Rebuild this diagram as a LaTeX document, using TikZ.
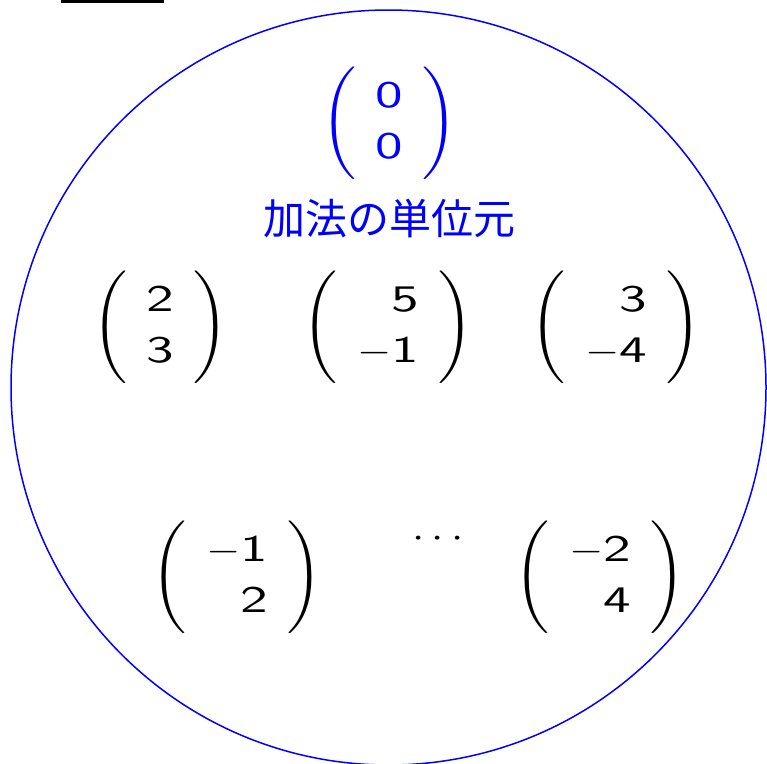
\documentclass[tikz,border=0pt]{standalone}
\usepackage{fontspec}
\newfontfamily\jp{Noto Sans CJK JP}
\newcommand{\dg}[1]{\scalebox{1.25}[1]{$\mathsf{#1}$}}
\newcommand{\myvec}[2]{\scalebox{4.4}[3.75]{\renewcommand{\arraystretch}{1.12}\setlength{\arraycolsep}{4.4pt}$\Bigg(\begin{array}{r}#1\\#2\end{array}\Bigg)$}}
\tikzset{
  vec/.style={inner sep=0pt, anchor=center},
  circ/.style={draw=blue, line width=1.5pt},
  lbl/.style={text=blue, inner sep=0pt, text height=32pt, text depth=4pt, font=\jp\fontsize{42}{48}\selectfont}
}
\begin{document}
\begin{tikzpicture}[x=1pt,y=-1pt]
\useasboundingbox (0,0) rectangle (767,763);
\fill[black] (61,0) rectangle (164,3);
\node[circ, circle, minimum size=755pt, inner sep=0pt] (c) at (388.5,387.5) {};
\node[vec, text=blue] (zero) at (389,123) {\myvec{\dg{0}}{\dg{0}}};
\node[lbl] (unit) at (389,220) {加法の単位元};
\node[vec] (v1) at (160,327) {\myvec{\dg{2}}{\dg{3}}};
\node[vec] (v2) at (388,327) {\myvec{\dg{5}}{-\dg{1}}};
\node[vec] (v3) at (616,327) {\myvec{\dg{3}}{-\dg{4}}};
\node[vec] (v4) at (237,577) {\myvec{-\dg{1}}{\dg{2}}};
\node[anchor=base, inner sep=0pt] (dots) at (438,547) {\scalebox{4.4}[3.75]{$\cdots$}};
\node[vec] (v5) at (600,577) {\myvec{-\dg{2}}{\dg{4}}};
\end{tikzpicture}
\end{document}
